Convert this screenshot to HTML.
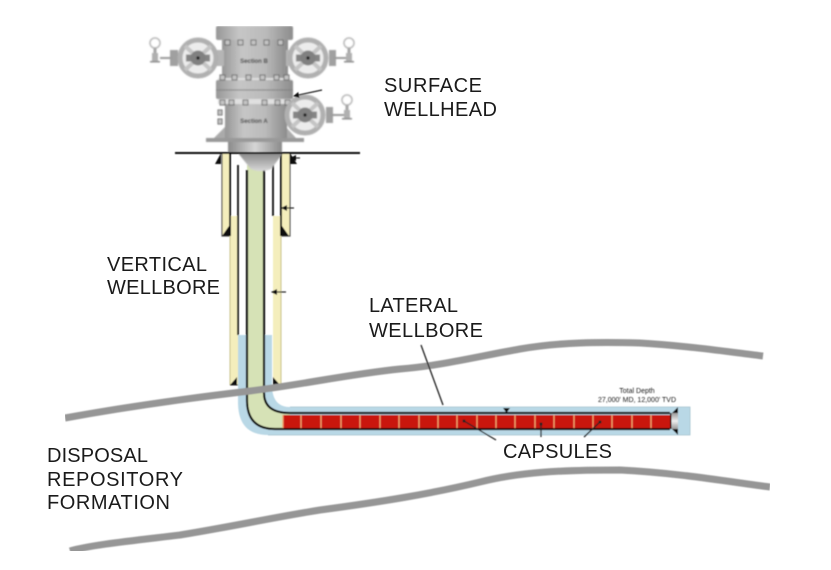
<!DOCTYPE html>
<html>
<head>
<meta charset="utf-8">
<style>
html,body{margin:0;padding:0;background:#fff;width:831px;height:570px;overflow:hidden}
svg{display:block}
text{font-family:"Liberation Sans",sans-serif;fill:#1a1a1a}
</style>
</head>
<body>
<svg width="831" height="570" viewBox="0 0 831 570" xmlns="http://www.w3.org/2000/svg">
<defs>
<filter id="soft" x="0" y="0" width="100%" height="100%"><feGaussianBlur stdDeviation="0.4"/></filter>
<filter id="soft2" x="-5%" y="-5%" width="110%" height="110%"><feGaussianBlur stdDeviation="0.6"/></filter>
<linearGradient id="m" x1="0" x2="1" y1="0" y2="0">
<stop offset="0" stop-color="#969696"/><stop offset=".3" stop-color="#c6c6c6"/><stop offset=".65" stop-color="#bababa"/><stop offset="1" stop-color="#8c8c8c"/>
</linearGradient>
<linearGradient id="c" x1="0" x2="1" y1="0" y2="0">
<stop offset="0" stop-color="#8a8a8a"/><stop offset=".5" stop-color="#d6d6d6"/><stop offset="1" stop-color="#8a8a8a"/>
</linearGradient>
<linearGradient id="cone" x1="0" x2="0" y1="0" y2="1">
<stop offset="0" stop-color="#888"/><stop offset="1" stop-color="#d8d8d8"/>
</linearGradient>
<linearGradient id="plug" x1="0" x2="0" y1="0" y2="1">
<stop offset="0" stop-color="#999"/><stop offset=".5" stop-color="#eee"/><stop offset="1" stop-color="#999"/>
</linearGradient>
<marker id="a" markerWidth="6" markerHeight="6" refX="5" refY="3" orient="auto" markerUnits="userSpaceOnUse"><path d="M0 0L6 3L0 6Z" fill="#111"/></marker>
<g id="wheel">
<circle r="18" fill="#ececec" stroke="#b0b0b0" stroke-width="5"/>
<path d="M-13-12L13 12M-13 12L13-12" stroke="#c4c4c4" stroke-width="4"/>
<path d="M-12-3.500h24v7h-24z" fill="#858585"/>
<circle r="7.500" fill="#808080"/>
<circle r="1.600" fill="#111"/>
</g>
<g id="gauge">
<circle r="5" fill="#fff" stroke="#b5b5b5" stroke-width="1.500"/>
<rect x="-1.500" y="5" width="3" height="5" fill="#a5a5a5"/>
<rect x="-3" y="10" width="6" height="8" fill="#b0b0b0"/>
<rect x="-5" y="18" width="10" height="1.500" fill="#8a8a8a"/>
</g>
</defs>

<g filter="url(#soft)">
<!-- wellbore vertical -->
<rect x="222" y="153" width="8" height="83" fill="#f4eebc"/>
<rect x="281" y="153" width="9" height="83" fill="#f4eebc"/>
<rect x="230" y="216" width="8" height="169" fill="#f4eebc"/>
<rect x="273" y="216" width="8" height="169" fill="#f4eebc"/>
<path d="M238 335V402Q238 435 268 435H690V407H290Q272 407 272 385V335Z" fill="#b9d8e6"/>
<path d="M247 165H264V395Q264 413 290 413V429H273Q247 429 247 402Z" fill="#d6e2b6"/>
<g stroke="#111" fill="none">
<path d="M222 153V236H230M290 153V236H281" stroke-width="1.200" stroke="#555"/>
<path d="M230 153V236" stroke-width="2"/>
<path d="M281 153V236" stroke-width="2"/>
<path d="M238 165V335" stroke-width="1.800"/>
<path d="M273 165V216" stroke-width="1.800"/>
<path d="M247 170V400Q247 429 275 429H670" stroke-width="2.200"/>
<path d="M264 170V393Q264 413 290 413H670" stroke-width="2.200"/>
<path d="M230 236V385M281 236V385" stroke="#c9c48e" stroke-width="1"/>
<path d="M230 385H238M273 385H281" stroke="#333" stroke-width="1"/>
</g>
<path d="M215 164L221 153V164ZM297 164L290 153V164ZM222 236L229 226V236ZM289 236L282 226V236ZM230 385L237 377V385ZM280 385L273 377V385Z" fill="#111"/>

<!-- capsules -->
<rect x="283" y="415" width="387" height="13" fill="#c9130f"/>
<g stroke="#eda06a" stroke-width="1.400">
<path d="M283 415v13M301 415v13M321 415v13M341 415v13M360 415v13M380 415v13M399 415v13M419 415v13M438 415v13M457 415v13M477 415v13M496 415v13M515 415v13M535 415v13M554 415v13M574 415v13M593 415v13M612 415v13M632 415v13M651 415v13"/>
</g>
<rect x="670" y="413" width="8" height="16" fill="url(#plug)"/>
<path d="M678 407L672 413H678ZM678 435L672 429H678Z" fill="#111"/>
<rect x="670" y="413" width="1.500" height="16" fill="#111"/>
<path d="M290 407H690V435H268" fill="none" stroke="#a4c2cf" stroke-width=".8"/>

<!-- gray formation lines -->
<path d="M65 418C120 408 190 398 250 391C300 385 350 374 400 369C440 366 480 356 520 349C560 342 600 342 640 343C690 346 730 352 763 356" fill="none" stroke="#969696" stroke-width="7"/>
<path d="M70 551C90 545 130 541 180 535C230 527 270 518 320 510C380 502 430 494 480 482C520 472 560 470 620 470C680 473 730 482 770 487" fill="none" stroke="#969696" stroke-width="7"/>

<!-- wellhead -->
<g filter="url(#soft2)">
<rect x="228" y="142" width="54" height="11" fill="url(#c)"/>
<path d="M238 153H283L272 168C268 172 254 172 250 168Z" fill="url(#cone)"/>
<rect x="206" y="138" width="98" height="4" fill="#999"/>
<path d="M214 138L226 126V138ZM296 138L285 126V138Z" fill="#aaa"/>
<rect x="225" y="100" width="62" height="38" fill="url(#m)"/>
<rect x="222" y="40" width="66" height="38" fill="url(#m)"/>
<rect x="216" y="26" width="77" height="14" rx="2" fill="url(#m)"/>
<rect x="218" y="78" width="73" height="4" fill="#e0e0e0"/>
<rect x="216" y="80" width="77" height="19" rx="2" fill="url(#m)"/>
<path d="M216 90H293" stroke="#808080" stroke-width="1"/>
<rect x="218" y="99" width="73" height="5" fill="#e0e0e0"/>
<g fill="#c5c5c5" stroke="#666" stroke-width="1">
<rect x="225" y="40" width="5" height="5"/><rect x="238" y="40" width="5" height="5"/><rect x="251" y="40" width="5" height="5"/><rect x="264" y="40" width="5" height="5"/><rect x="278" y="40" width="5" height="5"/>
<rect x="220" y="75" width="5" height="5"/><rect x="232" y="75" width="5" height="5"/><rect x="246" y="75" width="5" height="5"/><rect x="260" y="75" width="5" height="5"/><rect x="274" y="75" width="5" height="5"/><rect x="284" y="75" width="5" height="5"/>
<rect x="220" y="100" width="5" height="5"/><rect x="229" y="100" width="5" height="5"/><rect x="243" y="100" width="5" height="5"/><rect x="262" y="100" width="5" height="5"/><rect x="275" y="100" width="5" height="5"/><rect x="285" y="100" width="5" height="5"/>
<rect x="218" y="110" width="4" height="5"/><rect x="218" y="119" width="4" height="5"/>
</g>
<rect x="170" y="50" width="8" height="16" fill="#a0a0a0"/>
<rect x="329" y="50" width="7" height="16" fill="#a0a0a0"/>
<rect x="326" y="107" width="7" height="16" fill="#a0a0a0"/>
<rect x="214" y="50" width="10" height="16" fill="#b5b5b5"/>
<rect x="286" y="50" width="10" height="16" fill="#b5b5b5"/>
<path d="M160 58H172M334 58H349M331 115H347" stroke="#999" stroke-width="2"/>
<use href="#wheel" x="198" y="58"/>
<use href="#wheel" x="308" y="58"/>
<use href="#wheel" x="305" y="115"/>
<use href="#gauge" x="155" y="43"/>
<use href="#gauge" x="349" y="43"/>
<use href="#gauge" x="347" y="100"/>
<text x="254" y="63" font-size="6" font-weight="bold" text-anchor="middle" style="fill:#333">Section B</text>
<text x="254" y="123" font-size="6" font-weight="bold" text-anchor="middle" style="fill:#333">Section A</text>
</g>

<path d="M175 153H360" stroke="#111" stroke-width="2"/>

<!-- pointers -->
<g stroke="#222" stroke-width="1.200" fill="none">
<path d="M322 90L294 96" marker-end="url(#a)"/>
<path d="M300 158L291 158" marker-end="url(#a)"/>
<path d="M294 208L282 208" marker-end="url(#a)"/>
<path d="M286 292L272 292" marker-end="url(#a)"/>
</g>
<path d="M421 345L443 405M496 440L464 421M541 437V424M584 437L600 422" stroke="#222" stroke-width="1.300" fill="none"/>
<path d="M503 408H510L506.500 413Z" fill="#111"/>
<circle cx="464" cy="421" r="1.500" fill="#222"/><circle cx="541" cy="424" r="1.500" fill="#222"/><circle cx="600" cy="422" r="1.500" fill="#222"/>
<text x="637" y="393" font-size="7" text-anchor="middle">Total Depth</text>
<text x="637" y="402" font-size="7" text-anchor="middle">27,000' MD, 12,000' TVD</text>
</g>

<!-- labels -->
<g font-size="20">
<text x="384" y="92" textLength="98">SURFACE</text>
<text x="384" y="116" textLength="113">WELLHEAD</text>
<text x="107" y="271" textLength="100">VERTICAL</text>
<text x="107" y="294" textLength="113">WELLBORE</text>
<text x="369" y="312" textLength="89">LATERAL</text>
<text x="369" y="337" textLength="114">WELLBORE</text>
<text x="503" y="458" textLength="109">CAPSULES</text>
<text x="47" y="462" textLength="101">DISPOSAL</text>
<text x="47" y="486" textLength="136">REPOSITORY</text>
<text x="47" y="509" textLength="123">FORMATION</text>
</g>
</svg>
</body>
</html>
